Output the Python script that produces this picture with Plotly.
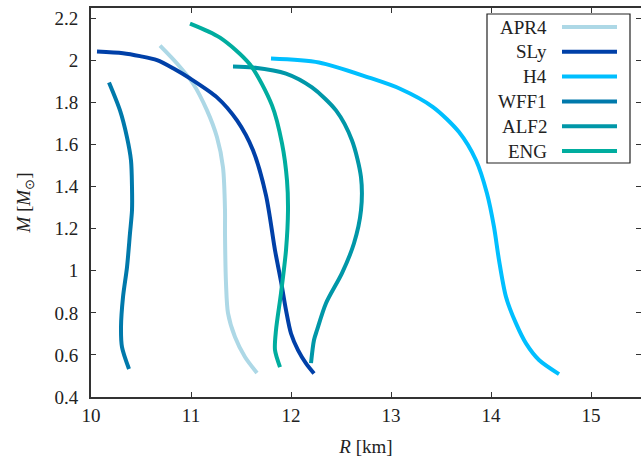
import plotly.graph_objects as go

# ---------------- data ----------------
names = ["APR4", "SLy", "H4", "WFF1", "ALF2", "ENG"]
colors = ["#add8e6", "#0040a8", "#00bfff", "#0079ab", "#0097a8", "#00ad9f"]

apr4_R = [10.69, 10.86, 11.02, 11.16, 11.26, 11.32, 11.34, 11.34, 11.35, 11.37, 11.44, 11.54, 11.66]
apr4_M = [2.071, 1.986, 1.891, 1.763, 1.635, 1.492, 1.288, 1.179, 0.941, 0.799, 0.685, 0.590, 0.514]

sly_R = [10.06, 10.32, 10.49, 10.66, 10.83, 10.99, 11.26, 11.46, 11.62, 11.75, 11.84, 11.90, 11.95, 12.00, 12.07, 12.15, 12.23]
sly_M = [2.043, 2.035, 2.021, 2.002, 1.961, 1.915, 1.825, 1.715, 1.573, 1.359, 1.098, 0.950, 0.813, 0.702, 0.623, 0.560, 0.512]

h4_R = [11.80, 12.28, 12.78, 13.09, 13.42, 13.68, 13.85, 13.96, 14.03, 14.08, 14.15, 14.25, 14.35, 14.48, 14.68]
h4_M = [2.010, 1.991, 1.919, 1.866, 1.779, 1.660, 1.526, 1.368, 1.209, 1.051, 0.876, 0.750, 0.655, 0.576, 0.509]

wff1_R = [10.18, 10.29, 10.36, 10.40, 10.41, 10.41, 10.39, 10.36, 10.32, 10.30, 10.31, 10.38]
wff1_M = [1.896, 1.763, 1.635, 1.525, 1.397, 1.288, 1.179, 1.017, 0.875, 0.732, 0.637, 0.533]

alf2_R = [11.42, 11.62, 11.95, 12.21, 12.45, 12.61, 12.70, 12.70, 12.63, 12.51, 12.35, 12.26, 12.23, 12.20]
alf2_M = [1.972, 1.967, 1.938, 1.872, 1.763, 1.620, 1.445, 1.288, 1.131, 0.989, 0.846, 0.718, 0.671, 0.561]

eng_R = [10.99, 11.29, 11.59, 11.81, 11.91, 11.96, 11.97, 11.95, 11.90, 11.85, 11.84, 11.89]
eng_M = [2.176, 2.109, 1.981, 1.787, 1.606, 1.430, 1.288, 1.098, 0.894, 0.718, 0.623, 0.542]

series_R = [apr4_R, sly_R, h4_R, wff1_R, alf2_R, eng_R]
series_M = [apr4_M, sly_M, h4_M, wff1_M, alf2_M, eng_M]

x_ticks = [10, 11, 12, 13, 14, 15]
x_ticktext = ["10", "11", "12", "13", "14", "15"]
y_ticks = [0.4, 0.6, 0.8, 1.0, 1.2, 1.4, 1.6, 1.8, 2.0, 2.2]
y_ticktext = ["0.4", "0.6", "0.8", "1", "1.2", "1.4", "1.6", "1.8", "2", "2.2"]

# ---------------- figure ----------------
W, H = 641, 457
ML, MR, MT, MB = 91, 0, 8, 60
PW, PH = W - ML - MR, H - MT - MB

def px_x(p):
    return (p - ML) / PW

def px_y(p):
    return (H - MB - p) / PH

FONT = "Liberation Serif"
FS = 19

fig = go.Figure()
for R, M, n, c in zip(series_R, series_M, names, colors):
    fig.add_trace(go.Scatter(x=R, y=M, mode="lines", name=n,
                             line=dict(color=c, width=4, shape="spline", smoothing=0.8),
                             showlegend=False, hoverinfo="skip"))

axis_common = dict(showgrid=False, zeroline=False, ticks="inside", ticklen=5,
                   tickwidth=1.2, tickcolor="#333", showline=True, linewidth=2,
                   linecolor="#333", mirror="ticks", automargin=False,
                   tickfont=dict(family=FONT, size=FS, color="#222"))

fig.update_xaxes(range=[10, 15.5], tickvals=x_ticks, ticktext=x_ticktext,
                 title=dict(text="<i>R</i> [km]", font=dict(family=FONT, size=FS, color="#222"), standoff=16),
                 **axis_common)
fig.update_yaxes(range=[0.4, 2.25], tickvals=y_ticks, ticktext=y_ticktext,
                 ticklabelstandoff=7,
                 title=dict(text="<i>M</i> [<i>M</i><sub>⊙</sub>]", font=dict(family=FONT, size=FS, color="#222"), standoff=19),
                 **axis_common)

# ---------------- legend (gnuplot style: text then line sample) ----------------
shapes = [dict(type="rect", xref="paper", yref="paper",
               x0=px_x(487), x1=px_x(630), y0=px_y(163), y1=px_y(14),
               line=dict(color="#222222", width=1.2), fillcolor="white", layer="above")]
annotations = []
row0, step = 27, 24.8
for i, (n, c) in enumerate(zip(names, colors)):
    yy = px_y(row0 + i * step)
    annotations.append(dict(xref="paper", yref="paper", x=px_x(549), y=yy,
                            text=n, showarrow=False, xanchor="right", yanchor="middle",
                            font=dict(family=FONT, size=FS, color="#222")))
    shapes.append(dict(type="line", xref="paper", yref="paper",
                       x0=px_x(562), x1=px_x(617), y0=yy, y1=yy,
                       line=dict(color=c, width=4), layer="above"))

fig.update_layout(width=W, height=H, margin=dict(l=ML, r=MR, t=MT, b=MB),
                  paper_bgcolor="white", plot_bgcolor="white",
                  shapes=shapes, annotations=annotations, showlegend=False)

fig.write_html("out.html", config={"displayModeBar": False},
               post_script="document.body.style.margin='0px';document.body.style.overflow='hidden';")
